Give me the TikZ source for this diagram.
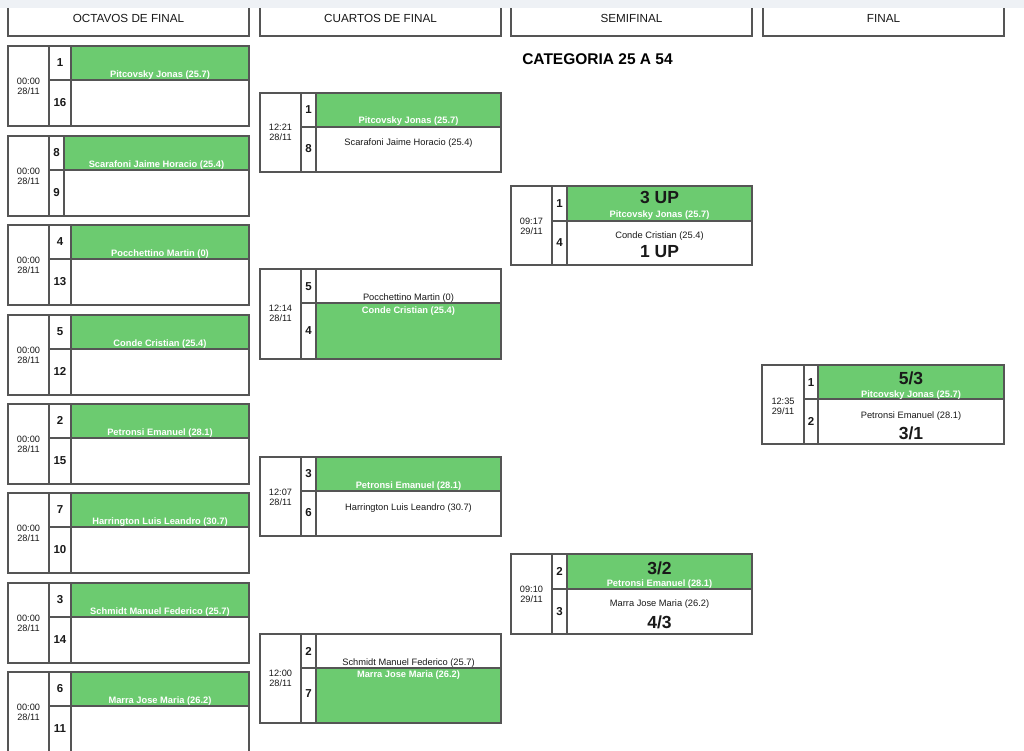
\documentclass[tikz,border=0pt]{standalone}
\usepackage{fontspec}
\setmainfont{Liberation Sans}
\definecolor{verde}{RGB}{108,203,112}
\definecolor{gris}{RGB}{85,85,85}
\definecolor{tinta}{RGB}{25,25,25}
\definecolor{banda}{RGB}{238,241,245}

\begin{document}
\begin{tikzpicture}[
    x=1pt, y=-1pt,
    borde/.style={draw=gris, line width=1.8pt},
    titulo/.style={font=\fontsize{11.7}{12}\selectfont, text=tinta},
    hora/.style={font=\fontsize{9.2}{9.8}\selectfont, align=center, text=tinta},
    sembrado/.style={font=\bfseries\fontsize{11.5}{12}\selectfont, text=tinta},
    jugador/.style={font=\fontsize{9.3}{10}\selectfont, text=tinta, anchor=base},
    jugadorg/.style={font=\bfseries\fontsize{9.3}{10}\selectfont, text=white, anchor=base},
    marcador/.style={font=\bfseries\fontsize{17.5}{18}\selectfont, text=tinta, anchor=base}
]

% Fondo y recorte
\fill[white] (0,0) rectangle (1024,750);
\clip (0,0) rectangle (1024,750);

% Cabeceras de las rondas
\draw[borde] (8,2) rectangle (249,36);
\draw[borde] (260,2) rectangle (501,36);
\draw[borde] (511,2) rectangle (752,36);
\draw[borde] (763,2) rectangle (1004,36);
\fill[banda] (0,0) rectangle (1024,7.5);
\node[titulo] (t-octavos) at (128.5,18.5) {OCTAVOS DE FINAL};
\node[titulo] (t-cuartos) at (380.5,18.5) {CUARTOS DE FINAL};
\node[titulo] (t-semi) at (631.5,18.5) {SEMIFINAL};
\node[titulo] (t-final) at (883.5,18.5) {FINAL};

\node[font=\bfseries\fontsize{15.5}{16}\selectfont, text=black] (categoria) at (597.5,59.3) {CATEGORIA 25 A 54};

% Octavos de final
\foreach \y/\sa/\sb/\jug/\xs [count=\i] in {
    46/1/16/{Pitcovsky Jonas (25.7)}/71,
    136/8/9/{Scarafoni Jaime Horacio (25.4)}/64,
    225/4/13/{Pocchettino Martin (0)}/71,
    315/5/12/{Conde Cristian (25.4)}/71,
    404/2/15/{Petronsi Emanuel (28.1)}/71,
    493/7/10/{Harrington Luis Leandro (30.7)}/71,
    583/3/14/{Schmidt Manuel Federico (25.7)}/71,
    672/6/11/{Marra Jose Maria (26.2)}/71}{
  \fill[verde] (\xs,\y) rectangle (249,\y+34);
  \draw[borde] (8,\y) rectangle (249,\y+80);
  \draw[borde] (49,\y) -- (49,\y+80) (\xs,\y) -- (\xs,\y+80) (49,\y+34) -- (249,\y+34);
  \node[hora] (o\i-hora) at (28.5,\y+40) {00:00\\28/11};
  \node[sembrado] (o\i-sa) at ({(49+\xs)/2},\y+16.5) {\sa};
  \node[sembrado] (o\i-sb) at ({(49+\xs)/2},\y+56.5) {\sb};
  \node[jugadorg] (o\i-jug) at ({(\xs+249)/2},\y+31) {\jug};
}

% Cuartos de final
\fill[verde] (316,93) rectangle (501,127);
\draw[borde] (260,93) rectangle (501,172);
\draw[borde] (301,93) -- (301,172) (316,93) -- (316,172) (301,127) -- (501,127);
\node[hora] (c1-hora) at (280.5,132.5) {12:21\\28/11};
\node[sembrado] (c1-sa) at (308.5,110) {1};
\node[sembrado] (c1-sb) at (308.5,148.5) {8};
\node[jugadorg] (c1-ja) at (408.5,123.3) {Pitcovsky Jonas (25.7)};
\node[jugador] (c1-jb) at (408.5,145) {Scarafoni Jaime Horacio (25.4)};

\fill[verde] (316,303) rectangle (501,359);
\draw[borde] (260,269) rectangle (501,359);
\draw[borde] (301,269) -- (301,359) (316,269) -- (316,359) (301,303) -- (501,303);
\node[hora] (c2-hora) at (280.5,313) {12:14\\28/11};
\node[sembrado] (c2-sa) at (308.5,286.5) {5};
\node[sembrado] (c2-sb) at (308.5,331) {4};
\node[jugador] (c2-ja) at (408.5,300.3) {Pocchettino Martin (0)};
\node[jugadorg] (c2-jb) at (408.5,313.3) {Conde Cristian (25.4)};

\fill[verde] (316,457) rectangle (501,491);
\draw[borde] (260,457) rectangle (501,536);
\draw[borde] (301,457) -- (301,536) (316,457) -- (316,536) (301,491) -- (501,491);
\node[hora] (c3-hora) at (280.5,497) {12:07\\28/11};
\node[sembrado] (c3-sa) at (308.5,473.5) {3};
\node[sembrado] (c3-sb) at (308.5,513) {6};
\node[jugadorg] (c3-ja) at (408.5,488.3) {Petronsi Emanuel (28.1)};
\node[jugador] (c3-jb) at (408.5,510) {Harrington Luis Leandro (30.7)};

\fill[verde] (316,668) rectangle (501,723);
\draw[borde] (260,634) rectangle (501,723);
\draw[borde] (301,634) -- (301,723) (316,634) -- (316,723) (301,668) -- (501,668);
\node[hora] (c4-hora) at (280.5,678) {12:00\\28/11};
\node[sembrado] (c4-sa) at (308.5,651) {2};
\node[sembrado] (c4-sb) at (308.5,694) {7};
\node[jugador] (c4-ja) at (408.5,665) {Schmidt Manuel Federico (25.7)};
\node[jugadorg] (c4-jb) at (408.5,677.6) {Marra Jose Maria (26.2)};

% Semifinales
\fill[verde] (567,186) rectangle (752,221);
\draw[borde] (511,186) rectangle (752,265);
\draw[borde] (552,186) -- (552,265) (567,186) -- (567,265) (552,221) -- (752,221);
\node[hora] (s1-hora) at (531.5,226) {09:17\\29/11};
\node[sembrado] (s1-sa) at (559.5,203.5) {1};
\node[sembrado] (s1-sb) at (559.5,243) {4};
\node[marcador] (s1-ma) at (659.5,203) {3 UP};
\node[jugadorg] (s1-ja) at (659.5,217.3) {Pitcovsky Jonas (25.7)};
\node[jugador] (s1-jb) at (659.5,238.3) {Conde Cristian (25.4)};
\node[marcador] (s1-mb) at (659.5,257) {1 UP};

\fill[verde] (567,554) rectangle (752,589);
\draw[borde] (511,554) rectangle (752,634);
\draw[borde] (552,554) -- (552,634) (567,554) -- (567,634) (552,589) -- (752,589);
\node[hora] (s2-hora) at (531.5,594) {09:10\\29/11};
\node[sembrado] (s2-sa) at (559.5,571.7) {2};
\node[sembrado] (s2-sb) at (559.5,611.7) {3};
\node[marcador] (s2-ma) at (659.5,574) {3/2};
\node[jugadorg] (s2-ja) at (659.5,586) {Petronsi Emanuel (28.1)};
\node[jugador] (s2-jb) at (659.5,606.6) {Marra Jose Maria (26.2)};
\node[marcador] (s2-mb) at (659.5,628) {4/3};

% Final
\fill[verde] (818,365) rectangle (1004,399);
\draw[borde] (762,365) rectangle (1004,444);
\draw[borde] (804,365) -- (804,444) (818,365) -- (818,444) (804,399) -- (1004,399);
\node[hora] (f-hora) at (783,406) {12:35\\29/11};
\node[sembrado] (f-sa) at (811,382.7) {1};
\node[sembrado] (f-sb) at (811,421.7) {2};
\node[marcador] (f-ma) at (911,384) {5/3};
\node[jugadorg] (f-ja) at (911,397.3) {Pitcovsky Jonas (25.7)};
\node[jugador] (f-jb) at (911,418.3) {Petronsi Emanuel (28.1)};
\node[marcador] (f-mb) at (911,439.6) {3/1};

\end{tikzpicture}
\end{document}
